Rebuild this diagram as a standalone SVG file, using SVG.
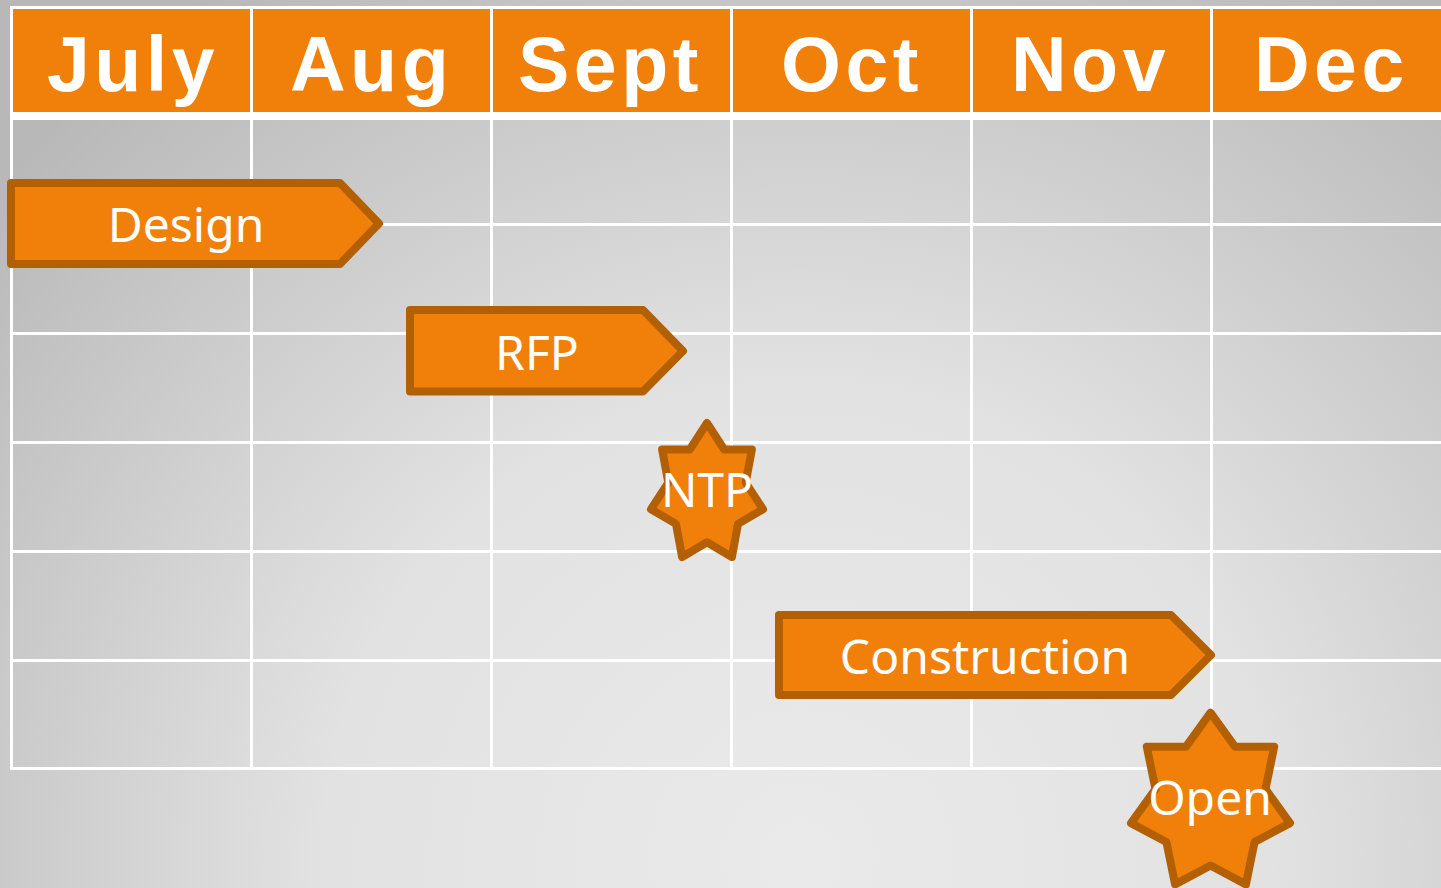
<svg xmlns="http://www.w3.org/2000/svg" width="1441" height="888" viewBox="0 0 1441 888">
  <defs>
    <radialGradient id="bg" gradientUnits="userSpaceOnUse" cx="800" cy="860" r="1050">
      <stop offset="0" stop-color="#eaeaea"/>
      <stop offset="0.45" stop-color="#e2e2e2"/>
      <stop offset="1" stop-color="#b8b8b8"/>
    </radialGradient>
  </defs>
  <style>
    .hdr { fill: #f0800a; }
    .grid { stroke: #ffffff; stroke-width: 3; fill: none; }
    .month { font-family: "Liberation Sans", Arial, sans-serif; font-weight: bold; font-size: 77px; fill: #ffffff; letter-spacing: 4.5px; }
    .shape { fill: #f0800a; stroke: #b35f04; stroke-width: 8; stroke-linejoin: round; }
    .label { font-family: "Noto Sans", "Open Sans", sans-serif; font-size: 48px; fill: #ffffff; text-anchor: middle; }
  </style>
  <rect x="0" y="0" width="1441" height="888" fill="url(#bg)"/>

  <g id="header">
    <rect x="10" y="6" width="1431" height="114" fill="#ffffff"/>
    <rect class="hdr" x="13" y="9" width="237" height="103"/>
    <rect class="hdr" x="253" y="9" width="237" height="103"/>
    <rect class="hdr" x="493" y="9" width="237" height="103"/>
    <rect class="hdr" x="733" y="9" width="237" height="103"/>
    <rect class="hdr" x="973" y="9" width="237" height="103"/>
    <rect class="hdr" x="1213" y="9" width="228" height="103"/>
    <text class="month" x="47" y="91">July</text>
    <text class="month" x="290" y="91">Aug</text>
    <text class="month" x="518" y="91">Sept</text>
    <text class="month" x="781" y="91">Oct</text>
    <text class="month" x="1011" y="91">Nov</text>
    <text class="month" x="1254" y="91">Dec</text>
  </g>

  <g id="grid">
    <path class="grid" d="M11.5 120 V769 M251.5 120 V769 M491.5 120 V769 M731.5 120 V769 M971.5 120 V769 M1211.5 120 V769"/>
    <path class="grid" d="M10 224.5 H1441 M10 333.5 H1441 M10 442.5 H1441 M10 551.5 H1441 M10 660.5 H1441 M10 768.5 H1441"/>
  </g>

  <g id="design">
    <polygon class="shape" points="11,183 340,183 379,223.5 340,264 11,264"/>
    <text class="label" x="186" y="242">Design</text>
  </g>

  <g id="rfp">
    <polygon class="shape" points="410,310 643,310 683,351 643,391.5 410,391.5"/>
    <text class="label" x="537" y="370">RFP</text>
  </g>

  <g id="ntp">
    <polygon class="shape" points="707,423 724.2,449.5 751.9,449.5 745.7,482.6 763,509.2 738,523.9 731.9,557 707,542.3 682.1,557 676,523.9 651,509.2 668.3,482.6 662.1,449.5 689.8,449.5"/>
    <text class="label" x="707" y="507">NTP</text>
  </g>

  <g id="construction">
    <polygon class="shape" points="779,615 1171,615 1211,655 1171,695 779,695"/>
    <text class="label" x="985" y="674">Construction</text>
  </g>

  <g id="open">
    <polygon class="shape" points="1210.5,712.7 1235,746.7 1274.2,746.7 1265.5,789.1 1290,823.1 1254.6,842 1245.9,884.4 1210.5,865.5 1175.1,884.4 1166.4,842 1131,823.1 1155.5,789.1 1146.8,746.7 1186,746.7"/>
    <text class="label" x="1210" y="815">Open</text>
  </g>

  <g id="connectors"></g>
</svg>
